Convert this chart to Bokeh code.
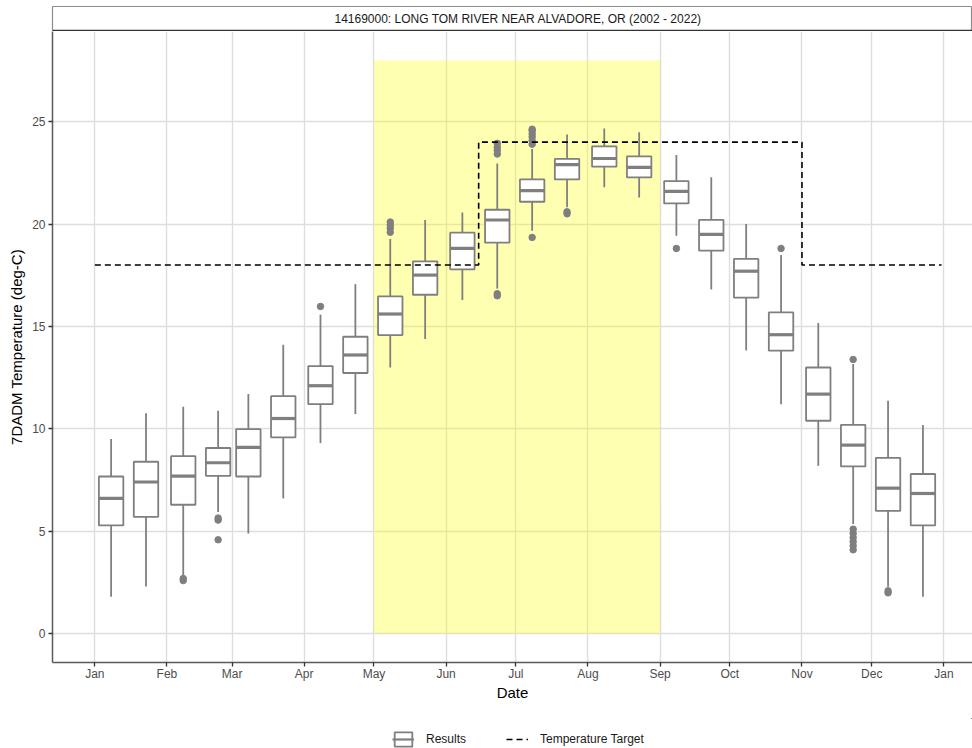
import pandas as pd
from bokeh.plotting import figure
from bokeh.layouts import column
from bokeh.models import (ColumnDataSource, FixedTicker, Legend, LegendItem,
                          Range1d, Span)
from bokeh.core.properties import value
from bokeh.embed import file_html
from bokeh.resources import INLINE

YEAR = 2022
site_title = "14169000: LONG TOM RIVER NEAR ALVADORE, OR (2002 - 2022)"

# Semi-monthly 7DADM temperature distributions (deg C)
period_dates = ["01-08", "01-23", "02-08", "02-23", "03-08", "03-23",
                "04-08", "04-23", "05-08", "05-23", "06-08", "06-23",
                "07-08", "07-23", "08-08", "08-23", "09-08", "09-23",
                "10-08", "10-23", "11-08", "11-23", "12-08", "12-23"]
whisker_low = [1.81, 2.31, 2.85, 5.95, 4.90, 6.61, 9.31, 10.73, 13.00, 14.39,
               16.29, 16.85, 19.68, 20.82, 21.80, 21.30, 19.43, 16.81, 13.83,
               11.21, 8.20, 5.36, 2.30, 1.81]
q1 = [5.29, 5.71, 6.30, 7.71, 7.68, 9.59, 11.21, 12.73, 14.58, 16.55, 17.79,
      19.09, 21.09, 22.18, 22.80, 22.28, 21.01, 18.70, 16.41, 13.82, 10.40,
      8.17, 6.00, 5.29]
median = [6.61, 7.41, 7.70, 8.35, 9.10, 10.51, 12.11, 13.61, 15.61, 17.51,
          18.81, 20.20, 21.63, 22.90, 23.20, 22.77, 21.60, 19.50, 17.70, 14.60,
          11.70, 9.21, 7.11, 6.85]
q3 = [7.68, 8.40, 8.67, 9.07, 9.99, 11.60, 13.07, 14.50, 16.47, 18.18, 19.58,
      20.70, 22.18, 23.18, 23.79, 23.30, 22.10, 20.21, 18.30, 15.69, 13.00,
      10.20, 8.59, 7.80]
whisker_high = [9.51, 10.77, 11.08, 10.89, 11.70, 14.11, 15.58, 17.07, 19.27,
                20.20, 20.57, 22.96, 23.66, 24.37, 24.67, 24.48, 23.37, 22.28,
                20.00, 18.49, 15.17, 13.17, 11.38, 10.19]
outliers = [[], [], [2.60, 2.70], [5.55, 5.65, 4.59], [], [], [15.98], [],
            [19.60, 19.80, 19.95, 20.10], [], [],
            [16.50, 16.60, 23.42, 23.60, 23.75, 23.94],
            [19.35, 23.90, 24.07, 24.25, 24.40, 24.55, 24.63],
            [20.50, 20.60], [], [], [18.81], [], [], [18.81], [],
            [13.39, 5.11, 4.90, 4.70, 4.50, 4.30, 4.10], [2.00, 2.10], []]

# Temperature target (step function) and the spawning season window
target_dates = ["01-01", "06-15", "11-01", "12-31"]
target_values = [18, 24, 18, 18]
season_dates = ["05-01", "09-01"]
season_top = 28

month_starts = ["2022-01-01", "2022-02-01", "2022-03-01", "2022-04-01",
                "2022-05-01", "2022-06-01", "2022-07-01", "2022-08-01",
                "2022-09-01", "2022-10-01", "2022-11-01", "2022-12-01",
                "2023-01-01"]
month_labels = ["Jan", "Feb", "Mar", "Apr", "May", "Jun", "Jul", "Aug",
                "Sep", "Oct", "Nov", "Dec", "Jan"]
y_ticks = [0, 5, 10, 15, 20, 25]

FONT = "Liberation Sans"
SMALL = "12px"
LARGE = "15px"
GREY = "#7f7f7f"
BOX_WIDTH = 10.5  # days

origin = pd.Timestamp(f"{YEAR}-01-01")


def day_of(s):
    ts = pd.Timestamp(s if len(s) > 5 else f"{YEAR}-{s}")
    return float((ts - origin).days)


box_x = [day_of(d) for d in period_dates]
target_x = [day_of(d) for d in target_dates]
season_x = [day_of(d) for d in season_dates]
tick_x = [day_of(d) for d in month_starts]

# ggplot-style 5% expansion of the data extents
x_lo_data, x_hi_data = min(target_x), max(target_x)
x_pad = 0.05 * (x_hi_data - x_lo_data)
x_lo, x_hi_full = x_lo_data - x_pad, x_hi_data + x_pad
y_lo, y_hi = -0.05 * season_top, season_top * 1.05
x_range = Range1d(x_lo, x_hi_full - 4.9)

# ---- facet strip carrying the site name ----
strip = figure(width=972, height=31, output_backend="svg",
               toolbar_location=None, x_range=x_range, y_range=Range1d(0, 1),
               x_axis_type=None, y_axis_type=None,
               min_border_left=52, min_border_right=0,
               min_border_top=6, min_border_bottom=0)
strip.grid.visible = False
strip.outline_line_color = "#8c8c8c"
strip.outline_line_width = 1.2
strip.background_fill_color = "white"
strip.border_fill_color = "white"
strip.text(x=[(x_lo + x_hi_full) / 2], y=[0.5], text=[site_title],
           text_font=value(FONT), text_font_size=SMALL, text_color="#1a1a1a",
           text_align="center", text_baseline="middle")
strip.add_layout(Span(location=0.03, dimension="width", line_color="#333333",
                      line_width=1.8))

# ---- main panel ----
p = figure(width=972, height=687, output_backend="svg", toolbar_location=None,
           x_range=x_range, y_range=Range1d(y_lo, y_hi),
           min_border_left=52, min_border_right=0,
           min_border_top=0, min_border_bottom=56)
p.outline_line_color = None
p.background_fill_color = "white"
p.border_fill_color = "white"

for ax in (p.xaxis, p.yaxis):
    ax.axis_line_color = "#5a5a5a"
    ax.axis_line_width = 1.5
    ax.major_tick_line_color = "#333333"
    ax.major_tick_line_width = 1.3
    ax.major_tick_out = 4
    ax.major_tick_in = 0
    ax.minor_tick_line_color = None
    ax.major_label_text_font = FONT
    ax.major_label_text_font_size = SMALL
    ax.major_label_text_color = "#4d4d4d"
    ax.major_label_standoff = 3
    ax.axis_label_text_font = FONT
    ax.axis_label_text_font_size = LARGE
    ax.axis_label_text_font_style = "normal"
    ax.axis_label_text_color = "black"

p.xaxis.ticker = FixedTicker(ticks=tick_x)
p.xaxis.major_label_overrides = {t: lbl for t, lbl in zip(tick_x, month_labels)}
p.xaxis.major_label_standoff = 0
p.xaxis.axis_label = "Date"
p.xaxis.axis_label_standoff = 0
p.yaxis.ticker = FixedTicker(ticks=y_ticks)
p.yaxis.axis_label = "7DADM Temperature (deg-C)"
p.yaxis.axis_label_standoff = 4

p.xgrid.ticker = FixedTicker(ticks=tick_x)
for g in (p.xgrid, p.ygrid):
    g.grid_line_color = "#dedede"
    g.grid_line_width = 1.4

# season window
p.quad(left=[season_x[0]], right=[season_x[1]], bottom=[0], top=[season_top],
       fill_color="yellow", fill_alpha=0.3, line_color=None)

# box plots
src = ColumnDataSource(dict(x=box_x, low=whisker_low, q1=q1, med=median,
                            q3=q3, high=whisker_high,
                            x0=[x - BOX_WIDTH / 2 for x in box_x],
                            x1=[x + BOX_WIDTH / 2 for x in box_x]))
box_style = dict(line_color=GREY, line_width=1.8)
p.segment(x0="x", y0="q3", x1="x", y1="high", source=src, **box_style)
p.segment(x0="x", y0="q1", x1="x", y1="low", source=src, **box_style)
p.vbar(x="x", width=BOX_WIDTH, bottom="q1", top="q3", source=src,
       fill_color="white", **box_style)
p.segment(x0="x0", y0="med", x1="x1", y1="med", source=src,
          line_color=GREY, line_width=3.2)

out_x = [x for x, pts in zip(box_x, outliers) for _ in pts]
out_y = [v for pts in outliers for v in pts]
p.scatter(out_x, out_y, size=6.5, marker="circle", fill_color=GREY,
          line_color=GREY)

# temperature target
target_style = dict(line_color="black", line_width=1.6, line_dash="6 4")
p.step(target_x, target_values, mode="after", **target_style)

# ---- legend row (its renderers share the data but sit outside the view) ----
key = figure(width=972, height=30, output_backend="svg",
             toolbar_location=None, x_range=Range1d(0, 1),
             y_range=Range1d(0, 1), x_axis_type=None, y_axis_type=None,
             min_border_left=52, min_border_right=0,
             min_border_top=0, min_border_bottom=0)
key.grid.visible = False
key.outline_line_color = None
key.background_fill_color = "white"
key.border_fill_color = "white"
k_box = key.vbar(x="x", width=BOX_WIDTH, bottom="q1", top="q3", source=src,
                 fill_color="white", **box_style)
k_med = key.segment(x0="x0", y0="med", x1="x1", y1="med", source=src,
                    line_color=GREY, line_width=2.2)
k_tgt = key.line(target_x, target_values, **target_style)
legend = Legend(items=[LegendItem(label="Results", renderers=[k_box, k_med]),
                       LegendItem(label="Temperature Target",
                                  renderers=[k_tgt])],
                orientation="horizontal", location=(340, 0),
                label_text_font=FONT, label_text_font_size=SMALL,
                label_text_color="#1a1a1a", glyph_width=22, glyph_height=18,
                label_standoff=12, spacing=40, padding=2, margin=0,
                background_fill_alpha=0, border_line_color=None)
key.add_layout(legend, "center")

layout = column(strip, p, key, spacing=0)
open("out.html", "w").write(file_html(layout, INLINE))
